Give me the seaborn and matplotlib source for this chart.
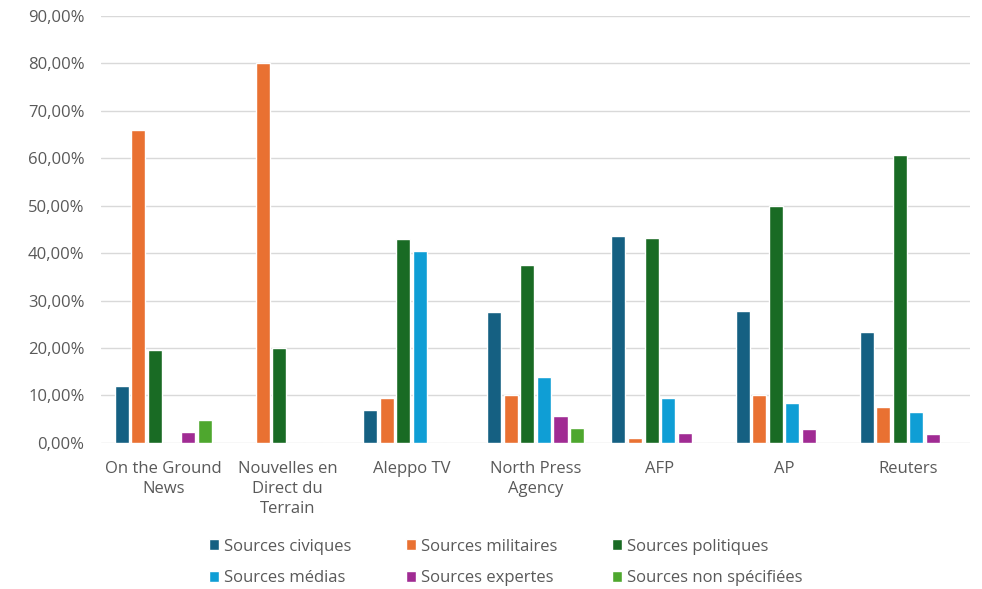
import pandas as pd
import numpy as np
import matplotlib.pyplot as plt
import seaborn as sns
from matplotlib.ticker import FuncFormatter, MultipleLocator

# values (percent)
medias = ["On the Ground\nNews", "Nouvelles en\nDirect du\nTerrain", "Aleppo TV",
          "North Press\nAgency", "AFP", "AP", "Reuters"]
sources = ["Sources civiques", "Sources militaires", "Sources politiques",
           "Sources médias", "Sources expertes", "Sources non spécifiées"]

civiques = [12.1, 0.0, 7.0, 27.6, 43.7, 27.9, 23.4]
militaires = [65.9, 80.0, 9.5, 10.2, 1.0, 10.2, 7.6]
politiques = [19.5, 20.0, 42.9, 37.6, 43.2, 49.9, 60.6]
medias_src = [0.0, 0.0, 40.4, 14.0, 9.4, 8.5, 6.5]
expertes = [2.2, 0.0, 0.0, 5.6, 2.0, 3.0, 1.8]
non_specifiees = [4.9, 0.0, 0.0, 3.2, 0.0, 0.0, 0.0]

couleurs = ["#156082", "#E97132", "#196B24", "#0F9ED5", "#A02B93", "#4EA72E"]

series = [civiques, militaires, politiques, medias_src, expertes, non_specifiees]
rows = []
for src, vals in zip(sources, series):
    for m, v in zip(medias, vals):
        rows.append({"Media": m, "Source": src, "Valeur": v})
df = pd.DataFrame(rows)

sns.set_style("white")
plt.rcParams["font.family"] = ["Open Sans", "DejaVu Sans"]
texte = "#595959"

fig = plt.figure(figsize=(9.82, 5.89), dpi=100)
ax = fig.add_axes([0.103, 0.248, 0.885, 0.725])

sns.barplot(data=df, x="Media", y="Valeur", hue="Source", order=medias,
            hue_order=sources, palette=couleurs, saturation=1, width=0.8, gap=0.15,
            ax=ax, zorder=3)

ax.set_ylim(0, 90)
ax.yaxis.set_major_locator(MultipleLocator(10))
ax.yaxis.set_major_formatter(FuncFormatter(lambda v, p: f"{v:.2f}%".replace(".", ",")))
ax.grid(axis="y", color="#d9d9d9", linewidth=1, zorder=0)
ax.set_axisbelow(True)
for s in ax.spines.values():
    s.set_visible(False)
ax.set_xlabel("")
ax.set_ylabel("")
ax.tick_params(axis="both", length=0, labelsize=12, labelcolor=texte)
ax.tick_params(axis="y", pad=12)
ax.tick_params(axis="x", pad=13)
for t in ax.get_xticklabels():
    t.set_linespacing(1.35)

# legend in 2 rows, read row by row
handles, labels = ax.get_legend_handles_labels()
ordre = [0, 3, 1, 4, 2, 5]
ax.legend([handles[i] for i in ordre], [labels[i] for i in ordre],
          loc="center", bbox_to_anchor=(0.515, 0.045), bbox_transform=fig.transFigure,
          ncol=3, frameon=False, fontsize=12, labelcolor=texte,
          handlelength=0.6, handleheight=0.6, handletextpad=0.3,
          columnspacing=3.3, labelspacing=0.95)

fig.savefig("out.png", dpi=100)
